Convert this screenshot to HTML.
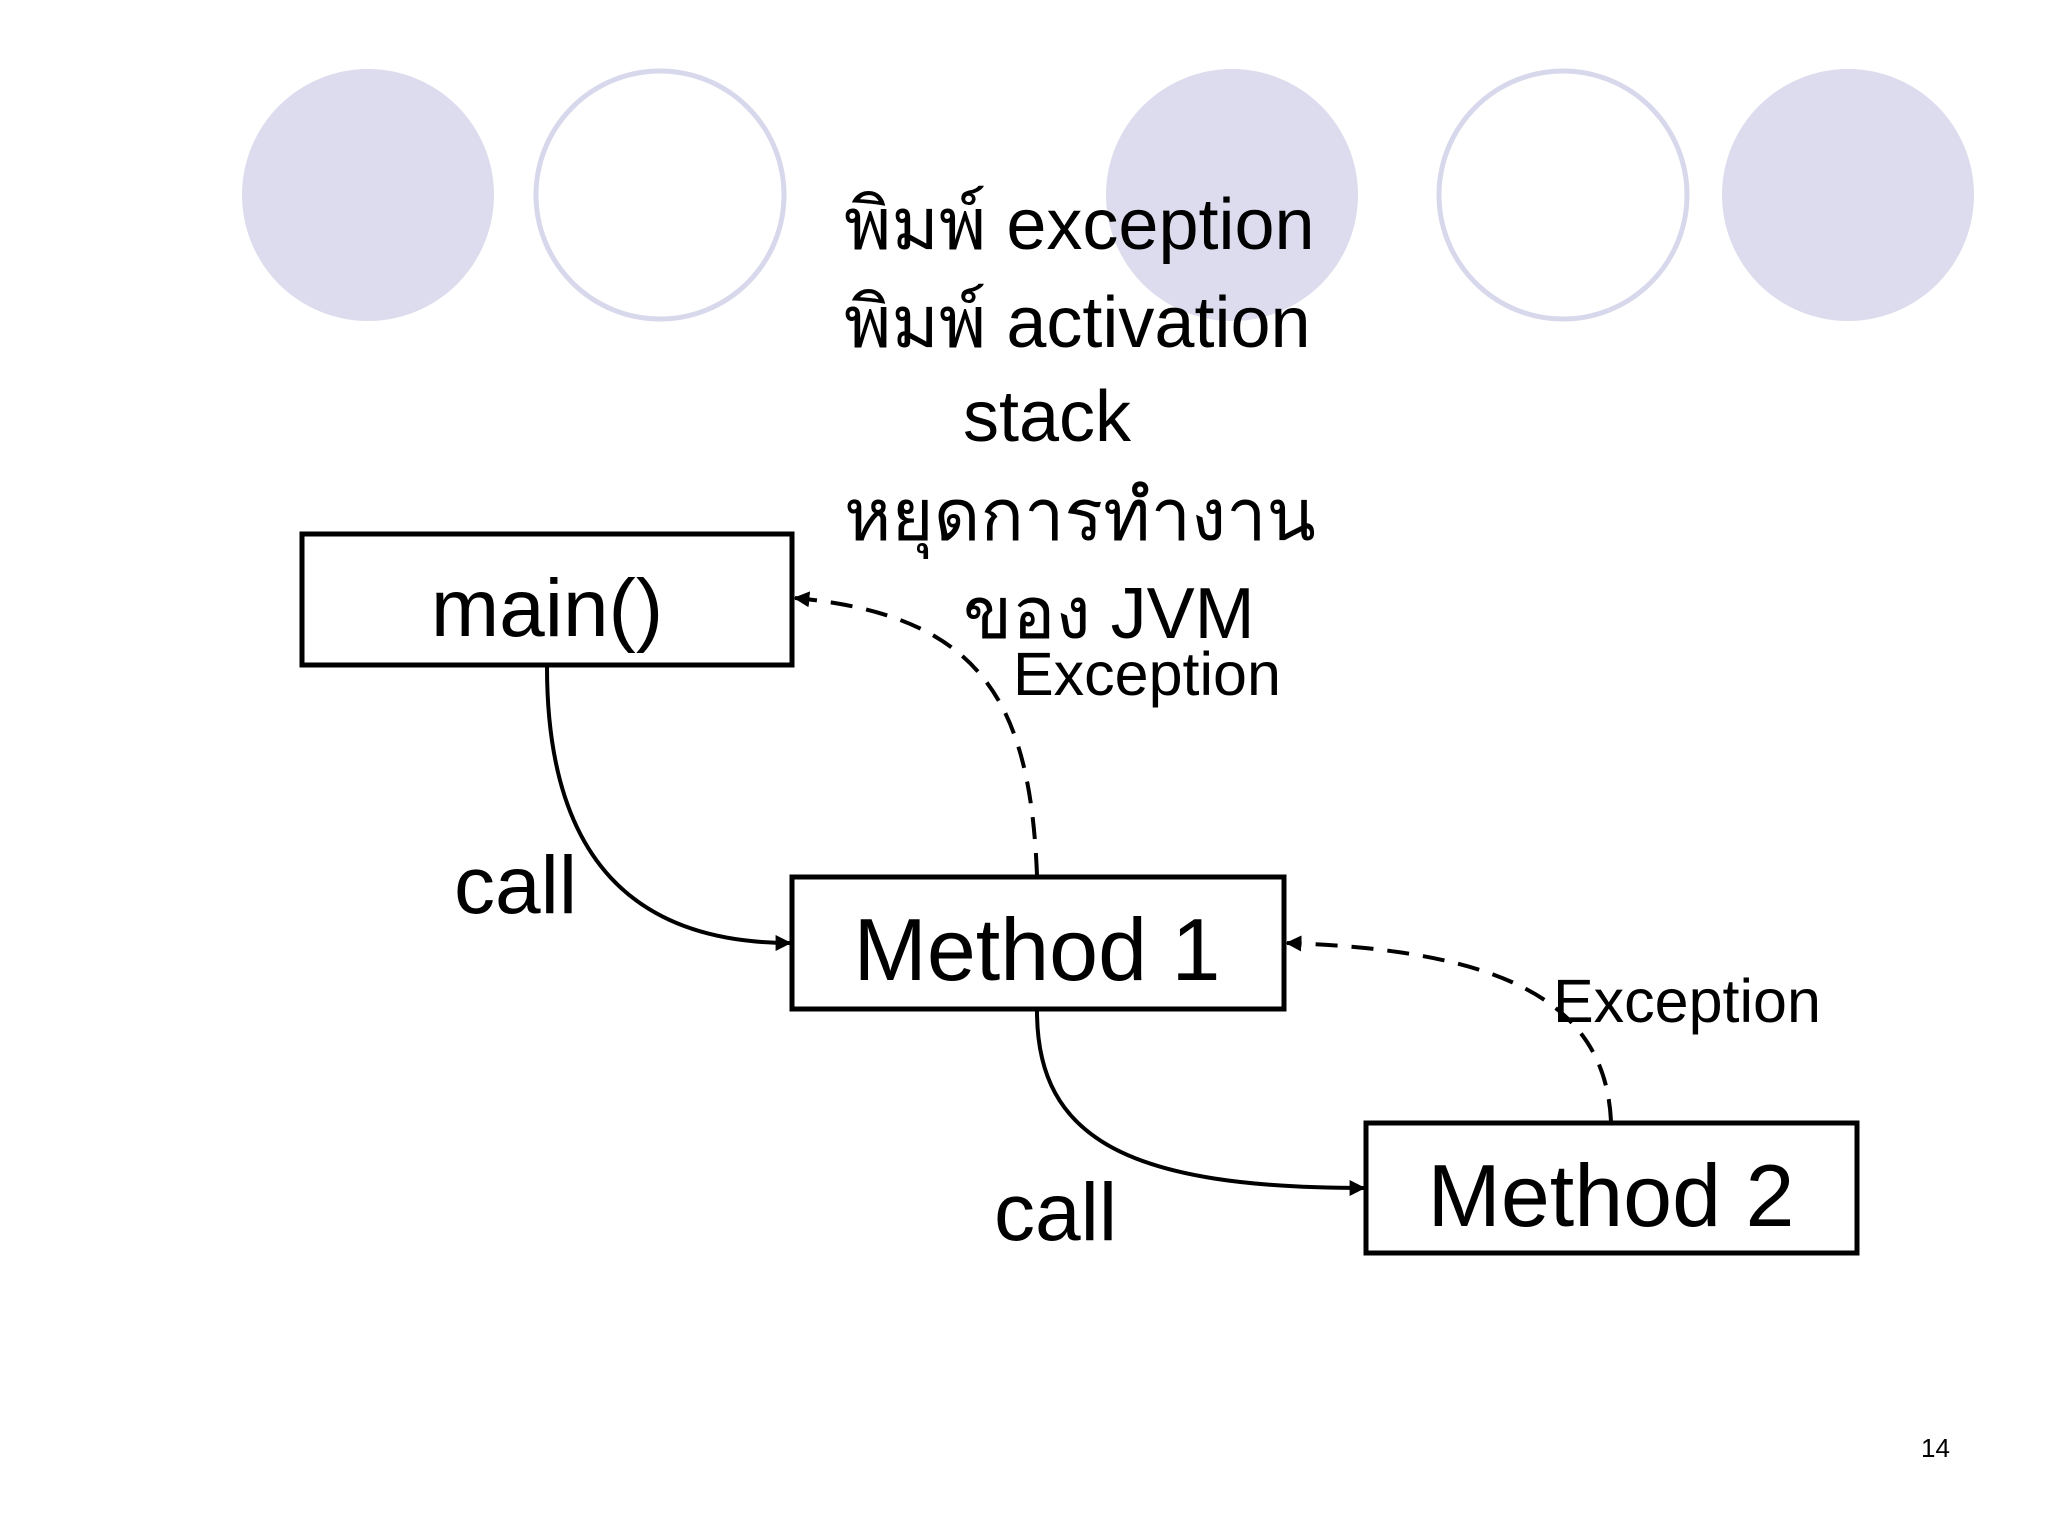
<!DOCTYPE html>
<html><head><meta charset="utf-8"><style>
html,body{margin:0;padding:0;background:#fff;}
svg{display:block;}
text{font-family:"Liberation Sans","DejaVu Sans",sans-serif;fill:#000;}
</style></head><body>
<svg width="2048" height="1536" viewBox="0 0 2048 1536" xmlns="http://www.w3.org/2000/svg">
<defs>
<marker id="ah" viewBox="0 0 10 10" refX="9" refY="5" markerWidth="4" markerHeight="4" orient="auto" markerUnits="strokeWidth">
<path d="M0,0 L10,5 L0,10 z" fill="#000"/></marker>
</defs>
<rect width="2048" height="1536" fill="#fff"/>
<circle cx="368" cy="195" r="126" fill="#dcdcee"/>
<circle cx="660" cy="195" r="124" fill="none" stroke="#d8d8ec" stroke-width="5"/>
<circle cx="1232" cy="195" r="126" fill="#dcdcee"/>
<circle cx="1563" cy="195" r="124" fill="none" stroke="#d8d8ec" stroke-width="5"/>
<circle cx="1848" cy="195" r="126" fill="#dcdcee"/>

<rect x="302" y="534" width="490" height="131" fill="#fff" stroke="#000" stroke-width="5"/>
<rect x="792" y="877" width="492" height="132" fill="#fff" stroke="#000" stroke-width="5"/>
<rect x="1366" y="1123" width="491" height="130" fill="#fff" stroke="#000" stroke-width="5"/>

<path d="M547,667 C547,861 636,943 790,943" fill="none" stroke="#000" stroke-width="4" marker-end="url(#ah)"/>
<path d="M1037,1011 C1037,1140 1130,1188 1364,1188" fill="none" stroke="#000" stroke-width="4" marker-end="url(#ah)"/>
<path d="M1037,875 C1030,700 980,615 795,598" fill="none" stroke="#000" stroke-width="4" stroke-dasharray="22,14" marker-end="url(#ah)"/>
<path d="M1611,1121 C1605,1000 1500,950 1287,943" fill="none" stroke="#000" stroke-width="4" stroke-dasharray="22,14" marker-end="url(#ah)"/>

<g font-size="72" font-family="'Liberation Sans','DejaVu Sans',sans-serif">
<text x="844" y="249">พิมพ์ exception</text>
<text x="844" y="347">พิมพ์ activation</text>
<text x="963" y="441">stack</text>
<text x="844" y="540">หยุดการทำงาน</text>
<text x="963" y="638">ของ JVM</text>
</g>
<text x="547" y="636" font-size="82" text-anchor="middle">main()</text>
<text x="1037" y="980" font-size="88" text-anchor="middle">Method 1</text>
<text x="1611" y="1226" font-size="88" text-anchor="middle">Method 2</text>
<text x="1013" y="695" font-size="61">Exception</text>
<text x="1553" y="1022" font-size="61">Exception</text>
<text x="454" y="913" font-size="82">call</text>
<text x="994" y="1240" font-size="82">call</text>
<text x="1921" y="1457" font-size="26">14</text>
</svg>
</body></html>
